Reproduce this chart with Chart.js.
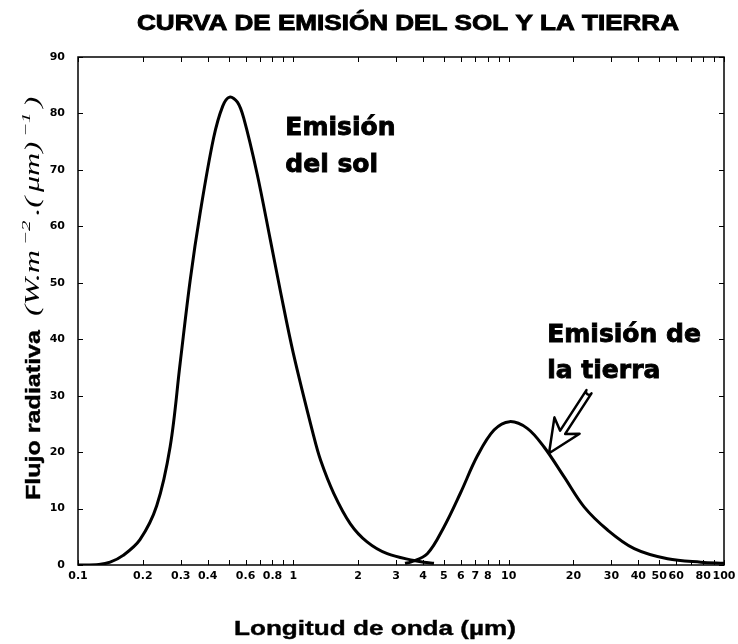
<!DOCTYPE html>
<html>
<head>
<meta charset="utf-8">
<script src="https://cdn.jsdelivr.net/npm/chart.js@4.4.1/dist/chart.umd.min.js"></script>
<style>
  html, body { margin: 0; padding: 0; background: #fff; }
  canvas { display: block; }
</style>
</head>
<body>
<canvas id="myChart" width="738" height="644"></canvas>
<script>
// Sun emission curve (wavelength in µm, flux)
const sunWavelength = [0.10, 0.125, 0.141, 0.162, 0.194, 0.232, 0.268, 0.298, 0.332, 0.369, 0.426, 0.47, 0.506, 0.55, 0.588, 0.678, 0.782, 0.871, 1.0, 1.24, 1.34, 1.54, 1.84, 2.20, 2.73, 3.63, 4.03, 4.5];
const sunFlux = [0, 0.1, 0.5, 1.7, 4.5, 10.5, 21.0, 35.7, 50.5, 62.3, 75.6, 81.3, 82.9, 82.0, 79.2, 69.4, 57.6, 48.5, 37.5, 23.0, 18.5, 12.7, 7.3, 4.1, 2.0, 0.8, 0.5, 0.3];

// Earth emission curve
const earthWavelength = [3.3, 3.5, 4.19, 5.0, 5.98, 7.15, 8.55, 10.1, 12.2, 14.6, 18.1, 22.4, 28.8, 38.3, 54.7, 78, 100];
const earthFlux = [0.3, 0.5, 2.0, 6.7, 12.8, 19.3, 23.9, 25.4, 24.2, 20.9, 15.6, 10.3, 6.2, 2.9, 1.1, 0.5, 0.3];

// axis ticks
const xDecades = [0.1, 1, 10];
const xTickLabels = [0.1, 0.2, 0.3, 0.4, 0.6, 0.8, 1, 2, 3, 4, 5, 6, 7, 8, 10, 20, 30, 40, 50, 60, 80, 100];
const yTickValues = [0, 10, 20, 30, 40, 50, 60, 70, 80, 90];

// annotation anchors (in data units)
const sunNote = { x: 0.918, y: [76.2, 69.7], lines: ['Emisión', 'del sol'] };
const earthNote = { x: 15.1, y: [39.5, 33.1], lines: ['Emisión de', 'la tierra'] };
const arrowTip = { x: 15.4, y: 19.8 };
const arrowTail = { x: 23.6, y: 30.7 };

function toPoints(xs, ys) {
    return xs.map((v, i) => ({ x: v, y: ys[i] }));
}

// draw text stretched to a given width, optionally a bit heavier
function fitText(ctx, text, x, y, width, heavy) {
    const w = ctx.measureText(text).width;
    ctx.save();
    ctx.translate(x, y);
    ctx.scale(width / w, 1);
    ctx.fillText(text, 0, 0);
    if (heavy) {
        ctx.lineWidth = heavy;
        ctx.strokeText(text, 0, 0);
    }
    ctx.restore();
}

const decor = {
    id: 'decor',
    beforeDraw(chart) {
        const ctx = chart.ctx;
        ctx.save();
        ctx.fillStyle = '#fff';
        ctx.fillRect(0, 0, chart.width, chart.height);
        ctx.restore();
    },
    afterDraw(chart) {
        const ctx = chart.ctx;
        const a = chart.chartArea;
        const x = chart.scales.x, y = chart.scales.y;
        ctx.save();

        // frame + inward ticks
        ctx.strokeStyle = '#000';
        ctx.lineWidth = 1.5;
        ctx.strokeRect(a.left, a.top, a.right - a.left, a.bottom - a.top);
        ctx.lineWidth = 1;
        ctx.beginPath();
        x.ticks.forEach(t => {
            const px = Math.round(x.getPixelForValue(t.value)) + 0.5;
            ctx.moveTo(px, a.bottom); ctx.lineTo(px, a.bottom - 5);
            ctx.moveTo(px, a.top); ctx.lineTo(px, a.top + 5);
        });
        y.ticks.forEach(t => {
            const py = Math.round(y.getPixelForValue(t.value)) + 0.5;
            ctx.moveTo(a.left, py); ctx.lineTo(a.left + 5, py);
            ctx.moveTo(a.right, py); ctx.lineTo(a.right - 5, py);
        });
        ctx.stroke();

        ctx.fillStyle = '#000';
        ctx.textAlign = 'left';
        ctx.textBaseline = 'alphabetic';

        // title
        ctx.font = 'bold 22px "Liberation Sans"';
        fitText(ctx, 'CURVA DE EMISIÓN DEL SOL Y LA TIERRA', 137, 30, 542, 0.9);

        // x axis title
        ctx.font = 'bold 21px "Liberation Sans"';
        fitText(ctx, 'Longitud de onda (µm)', 234, 635, 282, 0.4);

        // y axis title (rotated)
        ctx.save();
        ctx.translate(40, 500);
        ctx.rotate(-Math.PI / 2);
        ctx.font = 'bold 21px "Liberation Sans"';
        fitText(ctx, 'Flujo radiativa', 0, 0, 170, 0.4);
        ctx.restore();

        ctx.save();
        ctx.translate(39, 316);
        ctx.rotate(-Math.PI / 2);
        const parts = [
            ['(W.m', 0], ['−2', 1], ['.(', 0], ['μm)', 0], ['−1', 1], [')', 0]
        ];
        const big = 'italic 20px "Liberation Serif"', small = 'italic 13px "Liberation Serif"';
        let total = 0;
        parts.forEach(p => { ctx.font = p[1] ? small : big; total += ctx.measureText(p[0]).width + 3; });
        ctx.scale(224 / total, 1);
        let cx = 0;
        parts.forEach(p => {
            ctx.font = p[1] ? small : big;
            ctx.fillText(p[0], cx, p[1] ? -9 : 0);
            cx += ctx.measureText(p[0]).width + 3;
        });
        ctx.restore();

        // notes
        ctx.font = 'bold 25px "DejaVu Sans"';
        ctx.lineWidth = 0.9;
        [sunNote, earthNote].forEach(n => {
            n.lines.forEach((s, i) => {
                const px = x.getPixelForValue(n.x), py = y.getPixelForValue(n.y[i]);
                ctx.fillText(s, px, py);
                ctx.strokeText(s, px, py);
            });
        });

        // hollow arrow
        const tx = x.getPixelForValue(arrowTip.x), ty = y.getPixelForValue(arrowTip.y);
        const sx = x.getPixelForValue(arrowTail.x), sy = y.getPixelForValue(arrowTail.y);
        const len = Math.hypot(tx - sx, ty - sy);
        const ux = (tx - sx) / len, uy = (ty - sy) / len;
        const nx = -uy, ny = ux;
        const sh = 3, hh = 15, wing = 33, neck = 25;
        const P = (along, side) => [tx - ux * along + nx * side, ty - uy * along + ny * side];
        const pts = [P(len, sh), P(neck, sh), P(wing, hh), P(0, 0), P(wing, -hh), P(neck, -sh), P(len, -sh)];
        ctx.beginPath();
        ctx.moveTo(pts[0][0], pts[0][1]);
        pts.slice(1).forEach(p => ctx.lineTo(p[0], p[1]));
        ctx.arc(sx, sy, sh, Math.atan2(-ny, -nx), Math.atan2(ny, nx), false);
        ctx.closePath();
        ctx.fillStyle = '#fff';
        ctx.fill();
        ctx.lineWidth = 2.5;
        ctx.lineJoin = 'round';
        ctx.stroke();

        ctx.restore();
    }
};

const tickFont = { family: 'DejaVu Sans', weight: 'bold', size: 11 };

const lineStyle = {
    showLine: true,
    borderColor: '#000',
    borderWidth: 3,
    pointRadius: 0,
    fill: false,
    tension: 0.35
};

new Chart(document.getElementById('myChart'), {
    type: 'scatter',
    data: {
        datasets: [
            Object.assign({ label: 'Sol', data: toPoints(sunWavelength, sunFlux) }, lineStyle),
            Object.assign({ label: 'Tierra', data: toPoints(earthWavelength, earthFlux) }, lineStyle)
        ]
    },
    options: {
        responsive: false,
        animation: false,
        layout: { padding: { top: 57, right: 14, left: 0, bottom: 0 } },
        scales: {
            x: {
                type: 'logarithmic',
                min: 0.1,
                max: 100,
                grid: { display: false },
                border: { display: false },
                afterBuildTicks(scale) {
                    const ticks = [];
                    xDecades.forEach(d => {
                        for (let m = 1; m <= 9; m++) ticks.push({ value: parseFloat((m * d).toPrecision(3)) });
                    });
                    ticks.push({ value: 100 });
                    scale.ticks = ticks;
                },
                afterFit(scale) { scale.height = 79; },
                ticks: {
                    autoSkip: false,
                    maxRotation: 0,
                    padding: -3,
                    color: '#000',
                    font: tickFont,
                    callback: v => xTickLabels.includes(v) ? String(v) : ''
                }
            },
            y: {
                min: 0,
                max: 90,
                grid: { display: false },
                border: { display: false },
                afterBuildTicks(scale) {
                    scale.ticks = yTickValues.map(v => ({ value: v }));
                },
                afterFit(scale) { scale.width = 78; },
                ticks: { padding: 5, color: '#000', font: tickFont }
            }
        },
        plugins: {
            legend: { display: false },
            tooltip: { enabled: false }
        }
    },
    plugins: [decor]
});
</script>
</body>
</html>
